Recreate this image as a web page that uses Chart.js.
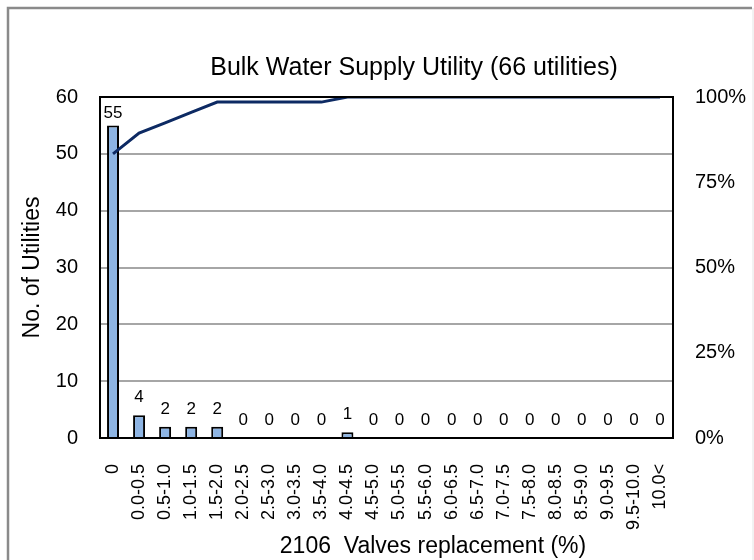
<!DOCTYPE html>
<html>
<head>
<meta charset="utf-8">
<script src="https://cdn.jsdelivr.net/npm/chart.js@4"></script>
<style>
  html, body { margin: 0; padding: 0; background: #fff; }
  #wrap { width: 754px; height: 560px; position: relative; }
</style>
</head>
<body>
<div id="wrap"><canvas id="chart" width="754" height="560"></canvas></div>
<script>
const categories = ['0', '0.0-0.5', '0.5-1.0', '1.0-1.5', '1.5-2.0', '2.0-2.5', '2.5-3.0', '3.0-3.5',
  '3.5-4.0', '4.0-4.5', '4.5-5.0', '5.0-5.5', '5.5-6.0', '6.0-6.5', '6.5-7.0', '7.0-7.5',
  '7.5-8.0', '8.0-8.5', '8.5-9.0', '9.0-9.5', '9.5-10.0', '10.0<'];
const utilityCounts = [55, 4, 2, 2, 2, 0, 0, 0, 0, 1, 0, 0, 0, 0, 0, 0, 0, 0, 0, 0, 0, 0];
const cumulativePct = [83.3, 89.4, 92.4, 95.5, 98.5, 98.5, 98.5, 98.5, 98.5, 100, 100, 100,
  100, 100, 100, 100, 100, 100, 100, 100, 100, 100];
const leftTicks = [0, 10, 20, 30, 40, 50, 60];
const rightTicks = [0, 25, 50, 75, 100];

const chartTitle = 'Bulk Water Supply Utility (66 utilities)';
const xTitle = '2106  Valves replacement (%)';
const yTitle = 'No. of Utilities';
const fontFamily = '"Liberation Sans", Arial, sans-serif';

// frame, titles and bar value labels
const decorations = {
  id: 'decorations',
  beforeDraw(chart) {
    const ctx = chart.ctx;
    ctx.save();
    ctx.strokeStyle = '#8a8a8a';
    ctx.lineWidth = 2.5;
    ctx.beginPath();
    ctx.moveTo(8, 560);
    ctx.lineTo(8, 8);
    ctx.lineTo(752, 8);
    ctx.stroke();
    ctx.strokeStyle = '#e4e4e4';
    ctx.lineWidth = 1;
    ctx.beginPath();
    ctx.moveTo(753, 8);
    ctx.lineTo(753, 560);
    ctx.stroke();
    ctx.restore();
  },
  afterDatasetsDraw(chart) {
    const ctx = chart.ctx;
    const area = chart.chartArea;
    ctx.save();
    ctx.strokeStyle = '#000';
    ctx.lineWidth = 2;
    ctx.strokeRect(area.left, area.top, area.right - area.left, area.bottom - area.top);

    ctx.fillStyle = '#000';
    ctx.textAlign = 'center';
    ctx.textBaseline = 'alphabetic';
    ctx.font = '25px ' + fontFamily;
    ctx.fillText(chartTitle, 414, 75);
    ctx.font = '23px ' + fontFamily;
    ctx.fillText(xTitle, 433, 553);

    const meta = chart.getDatasetMeta(1);
    ctx.font = '17px ' + fontFamily;
    meta.data.forEach((bar, i) => {
      let y = bar.y - 13;
      if (y < area.top + 21) y = area.top + 21;
      ctx.fillText(String(utilityCounts[i]), bar.x, y);
    });
    ctx.restore();
  },
};

new Chart(document.getElementById('chart'), {
  data: {
    labels: categories,
    datasets: [
      {
        type: 'line',
        label: 'Cumulative',
        data: cumulativePct,
        yAxisID: 'y1',
        borderColor: '#0d2a63',
        borderWidth: 3,
        pointRadius: 0,
        tension: 0,
        order: 0,
      },
      {
        type: 'bar',
        label: 'No. of Utilities',
        data: utilityCounts,
        yAxisID: 'y',
        backgroundColor: '#8db4e3',
        borderColor: '#000',
        borderWidth: 2,
        barPercentage: 0.46,
        categoryPercentage: 1,
        order: 1,
      },
    ],
  },
  options: {
    responsive: false,
    animation: false,
    layout: { padding: { top: 97, left: 0, right: 0, bottom: 0 } },
    plugins: {
      legend: { display: false },
      tooltip: { enabled: false },
    },
    scales: {
      x: {
        grid: { display: false, drawTicks: false },
        border: { display: false },
        ticks: {
          color: '#000',
          font: { family: fontFamily, size: 18 },
          minRotation: 90,
          maxRotation: 90,
          autoSkip: false,
          padding: 26,
        },
        afterFit(scale) { scale.height = 122; },
      },
      y: {
        position: 'left',
        min: 0,
        max: 60,
        afterBuildTicks(scale) { scale.ticks = leftTicks.map((v) => ({ value: v })); },
        grid: { color: '#a6a6a6', lineWidth: 2, drawTicks: false },
        border: { display: false },
        ticks: {
          color: '#000',
          font: { family: fontFamily, size: 20 },
          padding: 22,
        },
        title: {
          display: true,
          text: yTitle,
          color: '#000',
          font: { family: fontFamily, size: 23 },
          padding: { top: 19, bottom: 0 },
        },
        afterFit(scale) { scale.width = 100; },
      },
      y1: {
        position: 'right',
        min: 0,
        max: 100,
        afterBuildTicks(scale) { scale.ticks = rightTicks.map((v) => ({ value: v })); },
        grid: { display: false, drawTicks: false },
        border: { display: false },
        ticks: {
          color: '#000',
          font: { family: fontFamily, size: 20 },
          padding: 22,
          callback: (v) => v + '%',
        },
        afterFit(scale) { scale.width = 81; },
      },
    },
  },
  plugins: [decorations],
});
</script>
</body>
</html>
